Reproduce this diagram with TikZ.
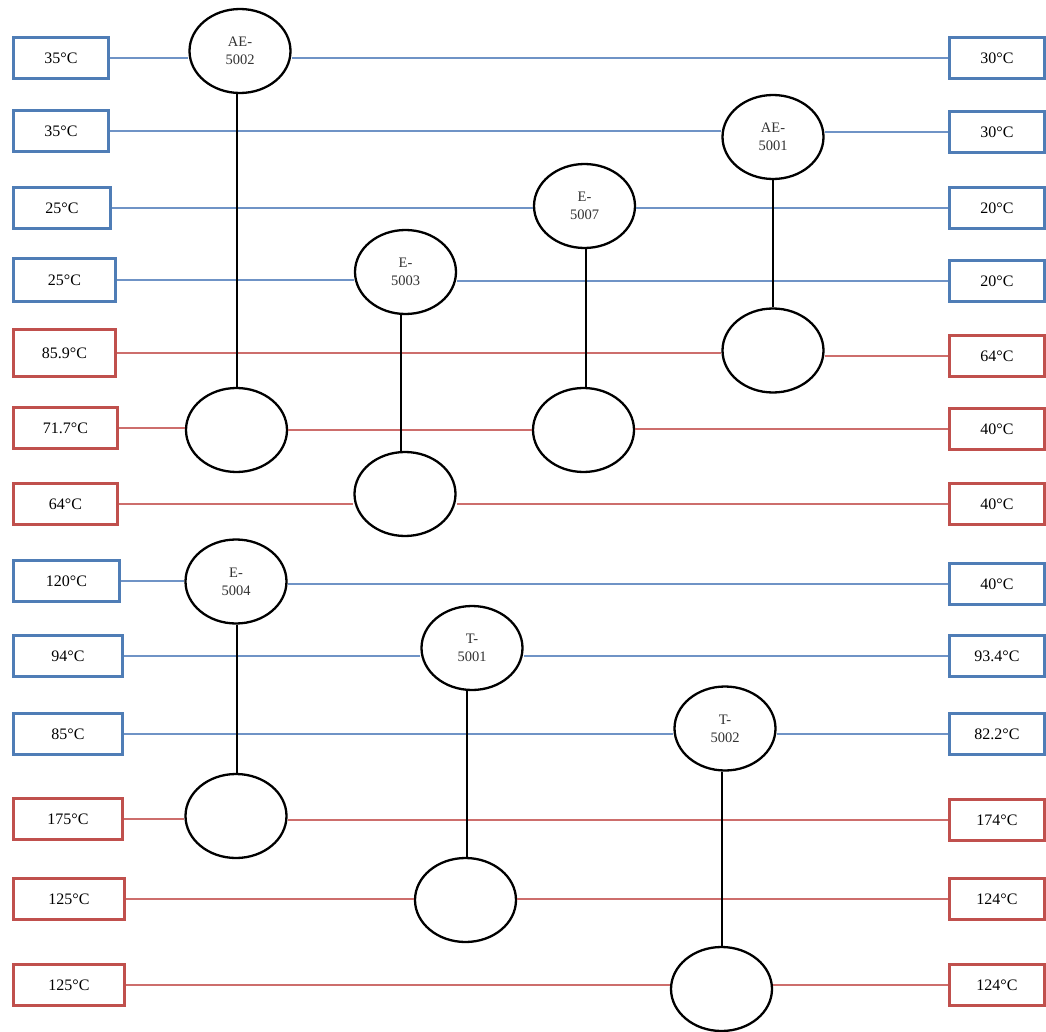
\documentclass[tikz,border=0pt]{standalone}
\usepackage{fontspec}
\setmainfont{Liberation Serif}
\usetikzlibrary{shapes.geometric}
\definecolor{bbox}{HTML}{4F7DB6}
\definecolor{rbox}{HTML}{C0504D}
\definecolor{bline}{HTML}{6F93C6}
\definecolor{rline}{HTML}{CD6E6C}
\begin{document}
\begin{tikzpicture}[x=1pt,y=-1pt,
  tbox/.style={draw, line width=3pt, inner sep=0pt, minimum width=95pt, minimum height=41pt,
    font=\fontsize{16}{18}\selectfont, fill=white},
  coldbox/.style={tbox, draw=bbox},
  hotbox/.style={tbox, draw=rbox},
  hx/.style={ellipse, draw=black, line width=2.3pt, fill=white, inner sep=0pt,
    minimum width=101pt, minimum height=84pt, align=center,
    font=\fontsize{14.5}{18}\selectfont, text=black!80},
  cold/.style={draw=bline, line width=1.6pt},
  hot/.style={draw=rline, line width=1.6pt},
  link/.style={draw=black, line width=2pt}]
\useasboundingbox (0,0) rectangle (1046,1032);
\fill[white] (0,0) rectangle (1046,1032);

% left boxes
\node[coldbox] (L1) at (61,58) {35°C};
\node[coldbox] (L2) at (61,131) {35°C};
\node[coldbox, minimum width=97pt] (L3) at (62,208) {25°C};
\node[coldbox, minimum width=102pt, minimum height=43pt] (L4) at (64.5,280) {25°C};
\node[hotbox, minimum width=102pt, minimum height=47pt] (L5) at (64.5,353) {85.9°C};
\node[hotbox, minimum width=104pt] (L6) at (65.5,428) {71.7°C};
\node[hotbox, minimum width=104pt] (L7) at (65.5,504) {64°C};
\node[coldbox, minimum width=106pt] (L8) at (66.5,581) {120°C};
\node[coldbox, minimum width=109pt] (L9) at (68,656) {94°C};
\node[coldbox, minimum width=109pt] (L10) at (68,734) {85°C};
\node[hotbox, minimum width=109pt] (L11) at (68,819) {175°C};
\node[hotbox, minimum width=111pt] (L12) at (69,899) {125°C};
\node[hotbox, minimum width=111pt] (L13) at (69,985) {125°C};

% right boxes
\node[coldbox] (R1) at (997,58) {30°C};
\node[coldbox] (R2) at (997,132) {30°C};
\node[coldbox] (R3) at (997,208) {20°C};
\node[coldbox] (R4) at (997,281) {20°C};
\node[hotbox] (R5) at (997,356) {64°C};
\node[hotbox] (R6) at (997,429) {40°C};
\node[hotbox] (R7) at (997,504) {40°C};
\node[coldbox] (R8) at (997,584) {40°C};
\node[coldbox] (R9) at (997,656) {93.4°C};
\node[coldbox] (R10) at (997,734) {82.2°C};
\node[hotbox] (R11) at (997,820) {174°C};
\node[hotbox] (R12) at (997,899) {124°C};
\node[hotbox] (R13) at (997,985) {124°C};

% exchangers
\node[hx] (AE2) at (240,51) {AE-\\5002};
\node[hx] (AE2b) at (236.5,430) {};
\node[hx] (AE1) at (773,137) {AE-\\5001};
\node[hx] (AE1b) at (773,350.5) {};
\node[hx] (E7) at (584.5,206) {E-\\5007};
\node[hx] (E7b) at (583.5,430) {};
\node[hx] (E3) at (405.5,272) {E-\\5003};
\node[hx] (E3b) at (405,494) {};
\node[hx] (E4) at (236,581.5) {E-\\5004};
\node[hx] (E4b) at (236,816) {};
\node[hx] (T1) at (472,648) {T-\\5001};
\node[hx] (T1b) at (465.5,900) {};
\node[hx] (T2) at (725,728.5) {T-\\5002};
\node[hx] (T2b) at (721.5,989) {};

% cold streams (horizontal at the box level)
\draw[cold] (L1.east) -- (L1.east -| AE2.west);   \draw[cold] (R1.west) -- (R1.west -| AE2.east);
\draw[cold] (L2.east) -- (L2.east -| AE1.west);   \draw[cold] (R2.west) -- (R2.west -| AE1.east);
\draw[cold] (L3.east) -- (L3.east -| E7.west);    \draw[cold] (R3.west) -- (R3.west -| E7.east);
\draw[cold] (L4.east) -- (L4.east -| E3.west);    \draw[cold] (R4.west) -- (R4.west -| E3.east);
\draw[cold] (L8.east) -- (L8.east -| E4.west);    \draw[cold] (R8.west) -- (R8.west -| E4.east);
\draw[cold] (L9.east) -- (L9.east -| T1.west);    \draw[cold] (R9.west) -- (R9.west -| T1.east);
\draw[cold] (L10.east) -- (L10.east -| T2.west);  \draw[cold] (R10.west) -- (R10.west -| T2.east);

% hot streams
\draw[hot] (L5.east) -- (L5.east -| AE1b.west);   \draw[hot] (R5.west) -- (R5.west -| AE1b.east);
\draw[hot] (L6.east) -- (L6.east -| AE2b.west);   \draw[hot] (AE2b.east) -- (E7b.west);
\draw[hot] (R6.west) -- (R6.west -| E7b.east);
\draw[hot] (L7.east) -- (L7.east -| E3b.west);    \draw[hot] (R7.west) -- (R7.west -| E3b.east);
\draw[hot] (L11.east) -- (L11.east -| E4b.west);  \draw[hot] (R11.west) -- (R11.west -| E4b.east);
\draw[hot] (L12.east) -- (L12.east -| T1b.west);  \draw[hot] (R12.west) -- (R12.west -| T1b.east);
\draw[hot] (L13.east) -- (L13.east -| T2b.west);  \draw[hot] (R13.west) -- (R13.west -| T2b.east);

% exchanger links (vertical)
\draw[link] ([xshift=0.5pt]AE2b.north) -- ([xshift=0.5pt]AE2b.north |- AE2.south);
\draw[link] (AE1b.north) -- (AE1b.north |- AE1.south);
\draw[link] ([xshift=2pt]E7b.north) -- ([xshift=2pt]E7b.north |- E7.south);
\draw[link] ([xshift=-4pt]E3b.north) -- ([xshift=-4pt]E3b.north |- E3.south);
\draw[link] ([xshift=1pt]E4b.north) -- ([xshift=1pt]E4b.north |- E4.south);
\draw[link] ([xshift=1.5pt]T1b.north) -- ([xshift=1.5pt]T1b.north |- T1.south);
\draw[link] ([xshift=0.5pt]T2b.north) -- ([xshift=0.5pt]T2b.north |- T2.south);
\end{tikzpicture}
\end{document}
